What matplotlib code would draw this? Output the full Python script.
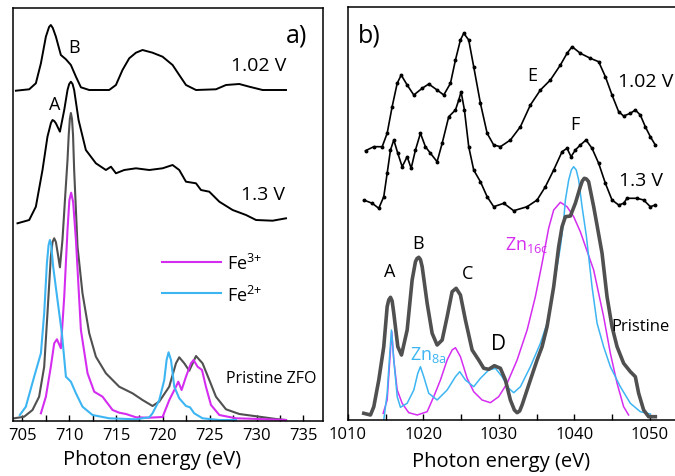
import numpy as np
import matplotlib
matplotlib.use('Agg')
import matplotlib.pyplot as plt
from matplotlib.ticker import MultipleLocator

plt.rcParams['font.family'] = ['Open Sans', 'DejaVu Sans']
plt.rcParams['mathtext.default'] = 'regular'

# ---- panel a: Fe L-edge ----
fe_102_E = [704.31, 705.73, 706.44, 706.98, 707.51, 707.85, 708.04, 708.25, 708.58, 709.11, 709.65, 710.18,
            710.72, 711.25, 712.14, 714.27, 714.99, 715.69, 716.41, 717.13, 717.83, 718.90,
            719.97, 721.04, 721.75, 722.47, 723.54, 725.67, 726.74, 728.16, 729.23, 730.65, 733.15]
fe_102_I = [-0.7, 0.7, 6.7, 26.7, 53.3, 63, 65, 62, 53.3, 35, 30.7, 25,
            13.3, 2.7, 0, 0, 5, 20, 31.7, 37.3, 40, 37.3,
            33.3, 25, 15, 5, 0, 0.7, 5, 6, 3.3, 0, 0]

fe_13_E = [704.48, 705.73, 706.44, 707.15, 707.68, 708.05, 708.22, 708.40, 708.58, 709.01, 709.47, 709.82,
           710.0, 710.18, 710.36, 710.53, 711.0, 711.78, 712.85, 713.92, 714.46, 714.99, 715.88, 717.13,
           718.55, 719.97, 721.04, 721.75, 722.47, 723.54, 724.07, 724.96, 726.03, 727.45,
           728.88, 729.95, 731.72, 733.15]
fe_13_I = [-2.3, 1, 14.3, 51, 84.3, 98, 101, 100, 97.7, 89.3, 111, 131,
           137, 139.3, 137, 131, 101, 71, 57.7, 51, 54.3, 47.7, 51, 52.7,
           51, 52.7, 56, 51, 39.3, 37.7, 31, 29.3, 19.3, 11,
           6, 1, 0.3, 2.7]

zfo_E = [704.12, 705.19, 706.08, 706.79, 707.33, 707.68, 708.04, 708.22, 708.40, 708.58, 708.75, 709.01,
         709.28, 709.57, 709.82, 709.95, 710.07, 710.18, 710.30, 710.41, 710.53, 710.89, 711.42, 712.14,
         712.85, 713.92, 715.34, 716.76, 717.83, 718.90, 719.62, 720.68, 721.40, 721.75,
         722.29, 722.82, 723.54, 724.24, 724.96, 725.67, 726.74, 728.16, 730.30, 732.08, 733.15]
zfo_I = [1.7, 3.3, 10, 23.3, 53.3, 106.7, 163.3, 178, 181.7, 178, 168.3, 152.7,
         180, 223.3, 260, 285, 301, 307, 301, 285, 250, 173.3, 126.7, 86.7,
         63.3, 46.7, 33.3, 26.7, 20, 14, 18.5, 33.3, 56.7, 62.7,
         56.7, 49.3, 64, 56.7, 40, 23.3, 10.7, 6, 3.3, 1, 0]

fe2_E = [704.73, 705.37, 706.26, 706.98, 707.33, 707.62, 707.80, 707.94, 708.08, 708.29, 708.75, 709.22,
         709.65, 710.18, 710.72, 711.42, 712.49, 714.27, 717.13, 718.55, 718.90, 719.62,
         720.15, 720.40, 720.61, 720.87, 721.22, 721.75, 722.47, 722.90, 723.35, 724.24,
         726.03, 727.81]
fe2_I = [5, 13.3, 43.3, 66.7, 106.7, 156.7, 175, 180, 175, 153.3, 120, 86.7,
         43.3, 38.3, 26.7, 13.3, 5, 1.7, 0.7, 2.7, 6.7, 20,
         40, 60, 67.7, 60, 33.3, 21.7, 14, 12.7, 6.7, 1.7,
         0, 0]

fe3_E = [706.98, 707.51, 708.04, 708.40, 708.69, 709.11, 709.47, 709.82, 710.02, 710.21, 710.42, 710.72,
         711.25, 711.96, 712.67, 713.56, 714.63, 715.34, 716.06, 717.13, 718.55, 719.97,
         720.69, 721.40, 721.65, 722.0, 722.47, 723.0, 723.28, 723.71, 724.18, 724.60,
         725.14, 726.03, 727.81, 730.30, 733.15]
fe3_I = [6.7, 23.3, 53.3, 76.7, 80.7, 71.7, 123.3, 190, 220, 227.3, 218, 180,
         90, 46.7, 28.3, 23.3, 10, 7.3, 6, 2.7, 2.3, 3,
         20, 33.3, 38.3, 30, 43.3, 56.7, 60, 53.3, 50, 33.3,
         15, 5, 1.7, 1, 0]

# ---- panel b: Zn L-edge ----
zn_102_E = [1012.32, 1013.42, 1014.53, 1015.19, 1015.85, 1016.52, 1017.05, 1017.84, 1018.72, 1019.83,
            1020.70, 1021.81, 1022.69, 1023.58, 1024.24, 1024.90, 1025.34, 1026.0, 1026.66, 1027.55,
            1028.44, 1029.31, 1030.20, 1031.52, 1032.85, 1034.17, 1035.50, 1036.82, 1038.15, 1039.03,
            1039.70, 1040.79, 1042.12, 1043.22, 1044.11, 1044.99, 1045.87, 1046.53, 1047.42, 1048.08,
            1048.74, 1049.40, 1050.07, 1050.73]
zn_102_I = [-3.7, 0.3, 0.3, 13.7, 40.3, 63.7, 72, 62, 52, 58.7,
            63, 57, 52, 63.7, 87, 107, 113.7, 107, 80.3, 43.7,
            13.7, 2, 0.3, 7, 20.3, 42, 57, 67, 82, 93.7,
            100.3, 93.7, 88.7, 85.3, 70.3, 52, 35.3, 31, 33.7, 37,
            32, 20.3, 10.3, 2]

zn_13_E = [1012.09, 1013.21, 1014.08, 1014.74, 1015.19, 1015.63, 1016.07, 1016.60, 1017.18, 1017.84,
           1018.37, 1018.94, 1019.60, 1020.26, 1020.93, 1021.81, 1022.48, 1023.35, 1024.24, 1024.68,
           1024.99, 1025.43, 1026.0, 1026.66, 1027.55, 1028.44, 1029.31, 1030.64, 1031.96, 1033.74,
           1035.06, 1036.16, 1037.26, 1038.37, 1039.03, 1039.56, 1040.13, 1040.79, 1041.55, 1042.34,
           1043.22, 1044.11, 1044.99, 1045.87, 1046.53, 1046.98, 1048.30, 1049.18, 1050.07, 1050.73]
zn_13_I = [5, 1.7, -3.3, 8.3, 31.7, 55, 65, 51.7, 38.3, 48.3,
           36.7, 55, 71.7, 58.3, 51.7, 43.3, 61.7, 88.3, 95, 105,
           113.3, 95, 58.3, 35, 23.3, 8.3, -1.7, 1.7, -5.7, -1.7,
           5, 18.3, 35, 53.3, 56.7, 48.3, 55, 60, 65, 56.7,
           41.7, 21.7, 5, 0, 1.7, 6.7, 6.7, 5, -1.7, 0]

prist_E = [1012.09, 1012.98, 1013.42, 1014.08, 1014.74, 1015.19, 1015.40, 1015.63, 1015.85, 1016.07,
           1016.60, 1017.09, 1017.84, 1018.50, 1018.94, 1019.15, 1019.38, 1019.60, 1019.83, 1020.49,
           1021.15, 1021.81, 1022.48, 1023.14, 1023.80, 1024.33, 1024.90, 1025.56, 1026.45, 1027.32,
           1027.99, 1028.65, 1029.40, 1030.20, 1030.86, 1031.52, 1032.05, 1032.41, 1032.75, 1033.07,
           1034.17, 1035.06, 1035.72, 1036.38, 1037.26, 1037.92, 1038.37, 1038.81, 1039.47, 1040.13,
           1040.79, 1041.05, 1041.32, 1041.60, 1041.89, 1042.56, 1043.0, 1043.67, 1044.33, 1044.99,
           1045.66, 1046.53, 1047.42, 1048.08, 1048.52, 1049.18, 1049.84, 1050.73]
prist_I = [6.7, 5, 13.3, 40, 73.3, 113.3, 120, 122.7, 119, 106.7,
           73.3, 65, 90, 140, 158.3, 161.5, 162.7, 160.5, 153.3, 116.7,
           86.7, 75, 80, 103.3, 128.3, 131.7, 125, 100, 70, 60,
           51.7, 50.7, 54.3, 51.7, 40, 20, 10, 7.3, 9, 15,
           40, 60, 73.3, 93.3, 133.3, 173.3, 193.3, 203.3, 204, 216.7,
           233.3, 239, 241.7, 241, 238.3, 213.3, 195, 166.7, 123.3, 93.3,
           73.3, 56.7, 48.3, 43.3, 26.7, 10, 3.3, 3.3]

zn8a_E = [1014.74, 1015.19, 1015.54, 1015.76, 1016.07, 1016.52, 1016.95, 1017.84, 1018.72, 1019.25,
          1019.60, 1020.04, 1020.70, 1021.81, 1023.14, 1024.24, 1024.81, 1025.56, 1026.66, 1027.55,
          1028.65, 1029.54, 1030.42, 1031.30, 1031.96, 1032.85, 1034.17, 1035.50, 1036.38, 1037.26,
          1038.15, 1038.59, 1038.81, 1039.25, 1039.60, 1039.91, 1040.25, 1040.57, 1041.02, 1041.59,
          1042.34, 1043.01, 1043.88, 1044.77, 1046.09, 1047.42, 1048.74, 1050.07]
zn8a_I = [0, 26.7, 66.7, 90, 60, 23.3, 12.7, 16.7, 30, 46.7,
          53.3, 43.3, 26.7, 20, 30, 43.3, 48.3, 40, 33.3, 41.7,
          50, 51.7, 43.3, 31.7, 27.3, 33.3, 53.3, 76.7, 96.7, 133.3,
          173.3, 200, 220, 240, 250, 253.3, 250, 240, 213.3, 184,
          133.3, 96.7, 73.3, 53.3, 33.3, 16.7, 8.3, 6]

zn16c_E = [1014.66, 1015.19, 1015.54, 1015.80, 1016.07, 1016.52, 1017.18, 1018.05, 1019.17, 1020.49,
           1021.36, 1022.25, 1023.14, 1023.80, 1024.24, 1024.90, 1025.79, 1026.66, 1027.77, 1028.87,
           1029.97, 1031.09, 1032.41, 1033.74, 1034.83, 1035.72, 1036.60, 1037.26, 1038.15, 1039.03,
           1039.91, 1040.79, 1042.56, 1043.88, 1044.77, 1045.66, 1046.53, 1047.19]
zn16c_I = [6.7, 20, 60, 88.3, 60, 30, 16.7, 7.3, 5, 8.3,
           23.3, 40, 60, 70, 72.3, 63.3, 41.7, 28.3, 20, 17.3,
           23.3, 36.7, 60, 90, 123.3, 156.7, 192, 210, 217.7, 213.3,
           203.3, 188.3, 150, 103.3, 66.7, 36.7, 13.3, 5]

magenta = '#d42df0'
blue = '#3db5f2'
gray = '#505050'

fig = plt.figure(figsize=(6.75, 4.76), dpi=100)
W, H = 675, 476

def px_axes(l, r, t, b):
    return fig.add_axes([l / W, 1 - b / H, (r - l) / W, (b - t) / H])

axa = px_axes(13, 323, 8, 421)
axb = px_axes(348, 680, 7, 420)

# panel a
axa.plot(fe_102_E, np.array(fe_102_I) + 330, color='black', lw=1.4)
axa.plot(fe_13_E, np.array(fe_13_I) + 199, color='black', lw=1.4)
axa.plot(zfo_E, zfo_I, color=gray, lw=1.5)
axa.plot(fe3_E, fe3_I, color=magenta, lw=1.5)
axa.plot(fe2_E, fe2_I, color=blue, lw=1.5)
axa.set_xlim(704.0, 737.1)
axa.set_ylim(-1, 412)
axa.xaxis.set_major_locator(MultipleLocator(5))
axa.xaxis.set_minor_locator(MultipleLocator(2.5))

axa.plot([719.95, 726.26], [158.3, 158.3], color=magenta, lw=1.5)
axa.plot([719.95, 726.26], [126.7, 126.7], color=blue, lw=1.5)
axa.text(726.8, 150, 'Fe$^{3{+}}$', fontsize=13, va='baseline')
axa.text(726.8, 118, 'Fe$^{2{+}}$', fontsize=13, va='baseline')

axa.text(734.25, 384, 'a)', fontsize=18, ha='center', va='center')
axa.text(730.19, 354, '1.02 V', fontsize=14, ha='center', va='center')
axa.text(730.73, 225, '1.3 V', fontsize=14, ha='center', va='center')
axa.text(710.53, 372, 'B', fontsize=13, ha='center', va='center')
axa.text(708.5, 315, 'A', fontsize=13, ha='center', va='center')
axa.text(731.58, 41, 'Pristine ZFO', fontsize=11.5, ha='center', va='center')

# panel b
axb.plot(zn_102_E, np.array(zn_102_I) + 273, color='black', lw=1.2,
         marker='o', ms=1.8)
axb.plot(zn_13_E, np.array(zn_13_I) + 215, color='black', lw=1.2,
         marker='o', ms=1.8)
axb.plot(zn16c_E, zn16c_I, color=magenta, lw=1.1)
axb.plot(zn8a_E, zn8a_I, color=blue, lw=1.1)
axb.plot(prist_E, prist_I, color=gray, lw=2.6)
axb.set_xlim(1010, 1054.0)
axb.set_ylim(0, 413)
axb.xaxis.set_major_locator(MultipleLocator(10))
axb.xaxis.set_minor_locator(MultipleLocator(5))

axb.text(1012.85, 384, 'b)', fontsize=18, ha='center', va='center')
axb.text(1034.44, 344, 'E', fontsize=13, ha='center', va='center')
axb.text(1049.4, 338, '1.02 V', fontsize=14, ha='center', va='center')
axb.text(1040.13, 295, 'F', fontsize=13, ha='center', va='center')
axb.text(1048.87, 239, '1.3 V', fontsize=14, ha='center', va='center')
axb.text(1015.5, 148, 'A', fontsize=13, ha='center', va='center')
axb.text(1019.34, 176, 'B', fontsize=13, ha='center', va='center')
axb.text(1025.83, 146, 'C', fontsize=13, ha='center', va='center')
axb.text(1029.93, 75, 'D', fontsize=15, ha='center', va='center')
axb.text(1018.28, 65, 'Zn$_{8a}$', fontsize=13, color=blue, ha='left', va='center')
axb.text(1030.86, 175, 'Zn$_{16c}$', fontsize=13, color=magenta, ha='left', va='center')
axb.text(1048.74, 93, 'Pristine', fontsize=12, ha='center', va='center')

for ax in (axa, axb):
    ax.set_yticks([])
    ax.tick_params(axis='x', which='both', direction='in', length=4, width=1,
                   labelsize=12, pad=5, top=False)
    for sp in ax.spines.values():
        sp.set_linewidth(1.1)

fig.text(152 / W, 1 - 460 / H, 'Photon energy (eV)', fontsize=14.5, ha='center', va='center')
fig.text(501 / W, 1 - 462 / H, 'Photon energy (eV)', fontsize=14.5, ha='center', va='center')

fig.savefig('out.png', dpi=100)
